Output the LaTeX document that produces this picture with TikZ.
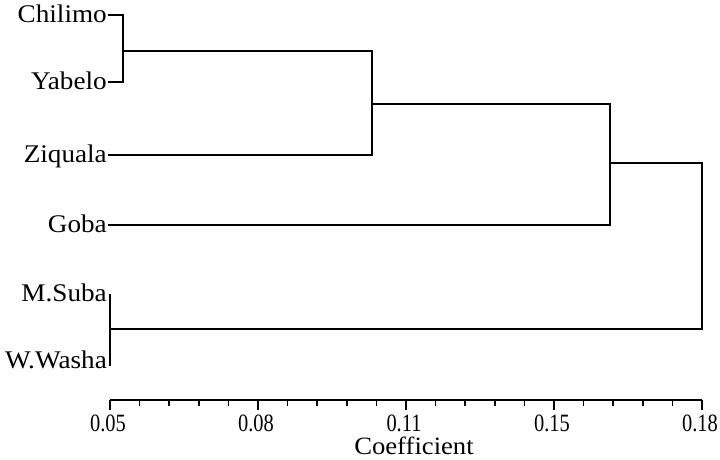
\documentclass[tikz,border=0pt]{standalone}
\usepackage{fontspec}
\setmainfont{Liberation Serif}
\begin{document}
\begin{tikzpicture}[x=1bp,y=-1bp,
  leaf/.style={anchor=base east,inner sep=0pt,xscale=1.07,font=\fontsize{25.5}{25.5}\selectfont},
  ticklab/.style={anchor=base,inner sep=0pt,xscale=0.82,font=\fontsize{25}{25}\selectfont},
  tree/.style={line width=1.8pt,line cap=rect},
  axis/.style={line width=1.6pt}]
\useasboundingbox[fill=white] (0,0) rectangle (720,460);
% leaf labels
\node[leaf] (chil) at (107,23) {Chilimo};
\node[leaf] (yab) at (107,90) {Yabelo};
\node[leaf] (ziq) at (107,163) {Ziquala};
\node[leaf] (goba) at (107,233) {Goba};
\node[leaf] (msub) at (107,302) {M.Suba};
\node[leaf] (wwas) at (107,368) {W.Washa};
% anchor points on the lines
\coordinate (chl) at (109,15);
\coordinate (yal) at (109,82);
\coordinate (zil) at (109,155);
\coordinate (gol) at (109,225);
% join points
\coordinate (j1a) at (123,15);
\coordinate (j1b) at (123,82);
\coordinate (j1) at (123,51);
\coordinate (j2a) at (372,51);
\coordinate (j2b) at (372,155);
\coordinate (j2) at (372,104);
\coordinate (j3a) at (610,104);
\coordinate (j3b) at (610,225);
\coordinate (j3) at (610,163);
\coordinate (j4a) at (702,163);
\coordinate (j4b) at (702,329);
\coordinate (m1) at (110,295);
\coordinate (m2) at (110,365);
\coordinate (m) at (110,329);
% tree
\draw[tree] (chl) -- (j1a) -- (j1b) -- (yal);
\draw[tree] (j1) -- (j2a) -- (j2b) -- (zil);
\draw[tree] (j2) -- (j3a) -- (j3b) -- (gol);
\draw[tree] (j3) -- (j4a) -- (j4b) -- (m);
\draw[tree] (m1) -- (m2);
% axis
\coordinate (ax0) at (110,400);
\coordinate (ax1) at (702,400);
\draw[axis] (ax0) -- (ax1);
\foreach \i in {0,...,20}{
  \pgfmathsetmacro{\xx}{110+\i*29.6}
  \draw[axis] (\xx,400) -- (\xx,406);
}
\foreach \i/\l in {0/0.05,1/0.08,2/0.11,3/0.15,4/0.18}{
  \pgfmathsetmacro{\xx}{110+\i*148}
  \draw[axis] (\xx,400) -- (\xx,410);
  \node[ticklab] (t\i) at (\xx-2,431) {\l};
}
\node[anchor=base,inner sep=0pt,xscale=1.07,font=\fontsize{25}{25}\selectfont] (coef) at (414,454) {Coefficient};
\end{tikzpicture}
\end{document}
